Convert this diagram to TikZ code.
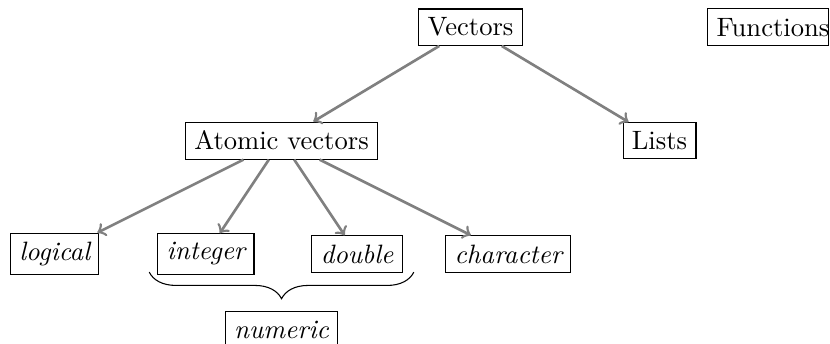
\documentclass[tikz,border=0pt]{standalone}
\usetikzlibrary{decorations.pathreplacing}
\begin{document}
\begin{tikzpicture}[
  box/.style={draw,rectangle},
  leaf/.style={box,font=\itshape},
  link/.style={->,gray,line width=1pt},
  bracestyle/.style={decorate,decoration={brace,mirror,amplitude=10pt}}
]
\useasboundingbox (-177.1pt,-119.2pt) rectangle (135.3pt,10.24pt);
\node[box] (vec) at (0,0) {Vectors};
\node (fun) at (4,0) {Functions};
\coordinate (edge) at (134.9pt,0);
\draw (fun.south west) rectangle (fun.north east -| edge);
\node[box] (atom) at (-2.5,-1.5) {Atomic vectors};
\node[box] (lists) at (2.5,-1.5) {Lists};
\node[leaf] (logical) at (-5.5,-3) {logical};
\node[leaf] (integer) at (-3.5,-3) {integer};
\node[leaf] (double) at (-1.5,-3) {double};
\node[leaf] (character) at (0.5,-3) {character};
\node[leaf] (numeric) at (-2.5,-4) {numeric};
\draw[link] (vec) -- (atom);
\draw[link] (vec) -- (lists);
\draw[link] (atom) -- (logical);
\draw[link] (atom) -- (integer);
\draw[link] (atom) -- (double);
\draw[link] (atom) -- (character);
\coordinate (bl) at (-4.25,-3.24);
\coordinate (br) at (-0.75,-3.24);
\draw[bracestyle] (bl) -- (br);
\end{tikzpicture}
\end{document}
